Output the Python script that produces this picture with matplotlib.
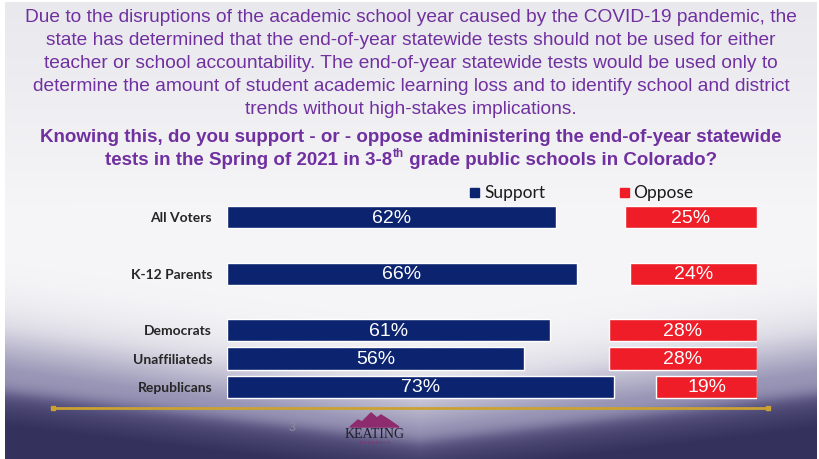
import numpy as np
import matplotlib.pyplot as plt
from matplotlib.patches import Rectangle, Polygon

W, H = 819, 460

groups = ["All Voters", "K-12 Parents", "Democrats", "Unaffiliateds", "Republicans"]
support = [62, 66, 61, 56, 73]
oppose = [25, 24, 28, 28, 19]
slots = [0, 2, 4, 5, 6]

intro_lines = [
    "Due to the disruptions of the academic school year caused by the COVID-19 pandemic, the",
    "state has determined that the end-of-year statewide tests should not be used for either",
    "teacher or school accountability. The end-of-year statewide tests would be used only to",
    "determine the amount of student academic learning loss and to identify school and district",
    "trends without high-stakes implications.",
]
question_line1 = "Knowing this, do you support - or - oppose administering the end-of-year statewide"
question_line2 = ["tests in the Spring of 2021 in 3-8", "th", " grade public schools in Colorado?"]

NAVY = "#0c2470"
RED = "#ee1d27"
PURPLE = "#7030a0"
ARIAL = ["Liberation Sans", "DejaVu Sans"]
CALIBRI = ["Lato", "Open Sans", "DejaVu Sans"]

fig = plt.figure(figsize=(W / 100, H / 100), dpi=100)
fig.patch.set_facecolor("white")


def fx(x):
    return x / W


def fy(y):
    return 1 - y / H


# slide background, pixel coordinates
bg = fig.add_axes([fx(5), 0, (817 - 5) / W, 1 - 3 / H])
bg.set_xlim(5, 817)
bg.set_ylim(460, 3)
bg.axis("off")

xs = np.arange(5, 817) + 0.5
ys = np.arange(3, 460) + 0.5
X, Y = np.meshgrid(xs, ys)


def sig(z, w):
    return 1 / (1 + np.exp(-z / w))


t = np.clip(Y / 220, 0, 1)[..., None]
light = np.array([232, 232, 237]) * (1 - t) + np.array([246, 246, 248]) * t
b1 = 385 - 60 * np.abs(X - 420) / 415
b2 = 442 - 50 * np.abs(X - 420) / 415
s1 = sig(Y - b1, 16)[..., None]
s2 = sig(Y - b2, 4)[..., None]
u = np.clip((Y - b1) / 45, 0, 1)[..., None]
lav = np.array([200, 198, 214]) * (1 - u) + np.array([150, 146, 180]) * u
v = np.clip((Y - b2) / 35, 0, 1)[..., None]
dark = np.array([88, 83, 128]) * (1 - v) + np.array([52, 49, 92]) * v
img = light * (1 - s1) + lav * s1
img = img * (1 - s2) + dark * s2
bg.imshow(img.astype(np.uint8), extent=(5, 817, 460, 3), aspect="auto", zorder=0)

# intro paragraph
for i, line in enumerate(intro_lines):
    bg.text(411, 17 + i * 23, line, ha="center", va="center", fontsize=13.75,
            color=PURPLE, family=ARIAL)

# question, bold
bg.text(411, 137, question_line1, ha="center", va="center", fontsize=13.5,
        color=PURPLE, family=ARIAL, fontweight="bold")
renderer = fig.canvas.get_renderer()
parts = []
for k, s in enumerate(question_line2):
    fs = 8.5 if k == 1 else 13.5
    parts.append(bg.text(0, 160, s, ha="left", va="center", fontsize=fs,
                         color=PURPLE, family=ARIAL, fontweight="bold"))
widths = [p.get_window_extent(renderer).width for p in parts]
x0 = 411 - sum(widths) / 2
for k, p in enumerate(parts):
    p.set_x(x0)
    if k == 1:
        p.set_y(154)
    x0 += widths[k]

# legend
bg.add_patch(Rectangle((470, 189), 9, 9, color=NAVY, zorder=3))
bg.text(484, 193, "Support", ha="left", va="center", fontsize=12.5, color="#1a1a1a", family=CALIBRI)
bg.add_patch(Rectangle((620, 189), 9, 9, color=RED, zorder=3))
bg.text(633, 193, "Oppose", ha="left", va="center", fontsize=12.5, color="#1a1a1a", family=CALIBRI)

# footer
bg.plot([53, 768], [409, 409], color="#c9a233", lw=2, zorder=2)
bg.plot([53, 768], [409, 409], ls="none", marker="s", ms=3, color="#c9a233", zorder=2)
bg.text(292, 428, "3", ha="center", va="center", fontsize=9, color="#8c8c9e", family=ARIAL)
bg.add_patch(Polygon([(350, 428), (358, 421), (362, 423), (371, 414), (377, 419),
                      (381, 416), (389, 421), (399, 428)], closed=True, color="#8e2a6e", zorder=3))
bg.text(375, 434, "KEATING", ha="center", va="center", fontsize=10, color="#221c2a",
        family=["Liberation Serif", "DejaVu Serif"])
bg.text(375, 443, "R E S E A R C H", ha="center", va="center", fontsize=3, color="#8e2a6e",
        family=ARIAL)

# bars
ax = fig.add_axes([fx(227), fy(416), 530 / W, 226 / H])
ax.set_xlim(0, 100)
ax.set_ylim(7, -1)
ax.patch.set_alpha(0)
ax.axis("off")

ax.barh(slots, support, left=0, height=0.78, color=NAVY, edgecolor="white", lw=1)
ax.barh(slots, oppose, left=[100 - o for o in oppose], height=0.78, color=RED,
        edgecolor="white", lw=1)

for pos, name, s, o in zip(slots, groups, support, oppose):
    ax.text(s / 2, pos, f"{s}%", ha="center", va="center", fontsize=14, color="white", family=ARIAL)
    ax.text(100 - o / 2, pos, f"{o}%", ha="center", va="center", fontsize=14, color="white",
            family=ARIAL)
    ax.text(-2.8, pos, name, ha="right", va="center", fontsize=10, color="#262626",
            family=CALIBRI, fontweight="bold")

fig.savefig("out.png", dpi=100)
